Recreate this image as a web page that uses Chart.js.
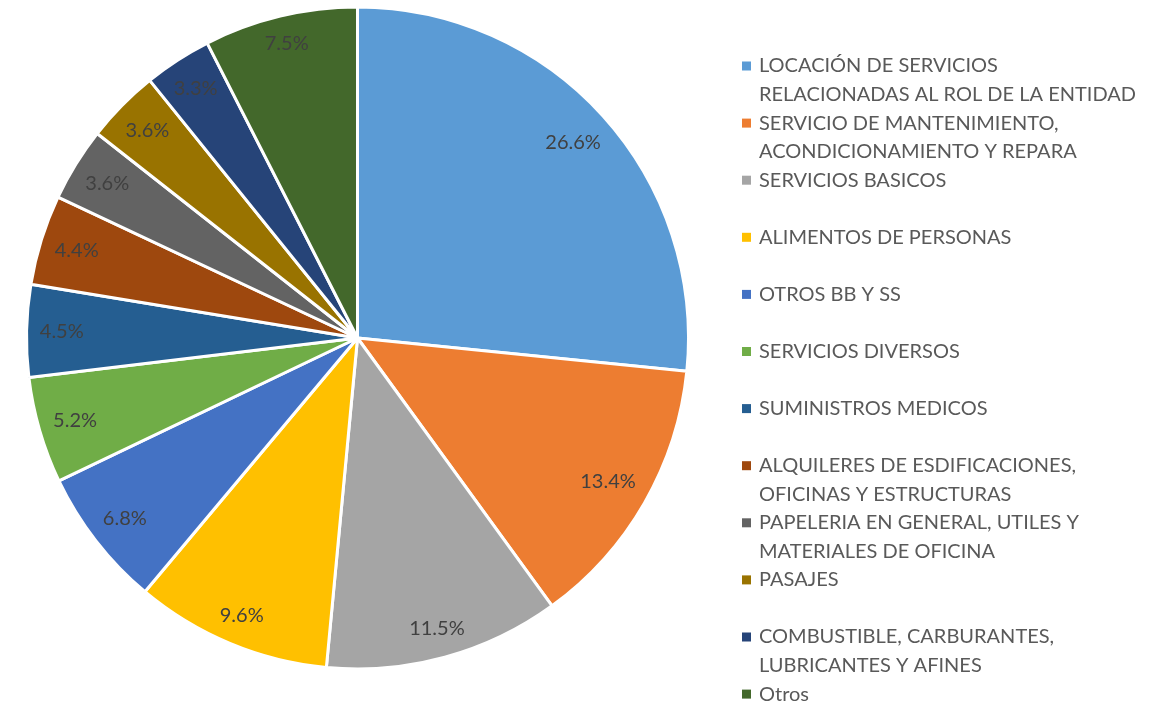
<!DOCTYPE html>
<html>
<head>
<meta charset="utf-8">
<script src="https://cdn.jsdelivr.net/npm/chart.js@4.4.1/dist/chart.umd.min.js"></script>
<style>
html,body{margin:0;padding:0;background:#fff;}
#wrap{width:1168px;height:704px;position:relative;}
</style>
</head>
<body>
<div id="wrap"><canvas id="c" width="1168" height="704"></canvas></div>
<script>
const categories = [
  ["LOCACIÓN DE SERVICIOS", "RELACIONADAS AL ROL DE LA ENTIDAD"],
  ["SERVICIO DE MANTENIMIENTO,", "ACONDICIONAMIENTO Y REPARA"],
  ["SERVICIOS BASICOS"],
  ["ALIMENTOS DE PERSONAS"],
  ["OTROS BB Y SS"],
  ["SERVICIOS DIVERSOS"],
  ["SUMINISTROS MEDICOS"],
  ["ALQUILERES DE ESDIFICACIONES,", "OFICINAS Y ESTRUCTURAS"],
  ["PAPELERIA EN GENERAL, UTILES Y", "MATERIALES DE OFICINA"],
  ["PASAJES"],
  ["COMBUSTIBLE, CARBURANTES,", "LUBRICANTES Y AFINES"],
  ["Otros"]
];
const values = [26.6, 13.4, 11.5, 9.6, 6.8, 5.2, 4.5, 4.4, 3.6, 3.6, 3.3, 7.5];
const colors = ["#5B9BD5", "#ED7D31", "#A5A5A5", "#FFC000", "#4472C4", "#70AD47",
                "#255E91", "#9E480E", "#636363", "#997300", "#264478", "#43682B"];

const FONT = "Lato, 'Open Sans', sans-serif";

const pctLabels = {
  id: 'pctLabels',
  afterDatasetsDraw(chart) {
    const ctx = chart.ctx;
    const meta = chart.getDatasetMeta(0);
    const total = values.reduce((a, b) => a + b, 0);
    ctx.save();
    ctx.font = "20px " + FONT;
    ctx.fillStyle = "#404040";
    ctx.textAlign = "center";
    ctx.textBaseline = "middle";
    meta.data.forEach((arc, i) => {
      const p = arc.getProps(['x', 'y', 'startAngle', 'endAngle', 'outerRadius'], true);
      const mid = (p.startAngle + p.endAngle) / 2;
      const txt = (values[i] / total * 100).toFixed(1) + "%";
      const w = ctx.measureText(txt).width;
      const c = Math.cos(mid), s = Math.sin(mid);
      const r = p.outerRadius - 13 - (Math.abs(c) * w / 2 + Math.abs(s) * 10);
      ctx.fillText(txt, p.x + c * r, p.y + s * r);
    });
    ctx.restore();
  }
};

const sideLegend = {
  id: 'sideLegend',
  afterDraw(chart) {
    const ctx = chart.ctx;
    const area = chart.chartArea;
    const x0 = area.right + 52;
    const y0 = 66;
    const step = 57.1;
    const lineH = 28.5;
    ctx.save();
    ctx.font = "20px " + FONT;
    ctx.textBaseline = "middle";
    ctx.textAlign = "left";
    categories.forEach((lines, i) => {
      const y = y0 + i * step;
      ctx.fillStyle = colors[i];
      ctx.fillRect(x0, y - 4.5, 9, 9);
      ctx.fillStyle = "#595959";
      lines.forEach((ln, j) => ctx.fillText(ln, x0 + 17, y + j * lineH));
    });
    ctx.restore();
  }
};

new Chart(document.getElementById('c'), {
  type: 'pie',
  data: {
    labels: categories.map(l => l.join(' ')),
    datasets: [{
      data: values,
      backgroundColor: colors,
      borderColor: '#ffffff',
      borderWidth: 3
    }]
  },
  options: {
    responsive: false,
    animation: false,
    layout: { padding: { left: 25, top: 5, right: 478, bottom: 33 } },
    plugins: {
      legend: { display: false },
      tooltip: { enabled: false }
    }
  },
  plugins: [pctLabels, sideLegend]
});
</script>
</body>
</html>
